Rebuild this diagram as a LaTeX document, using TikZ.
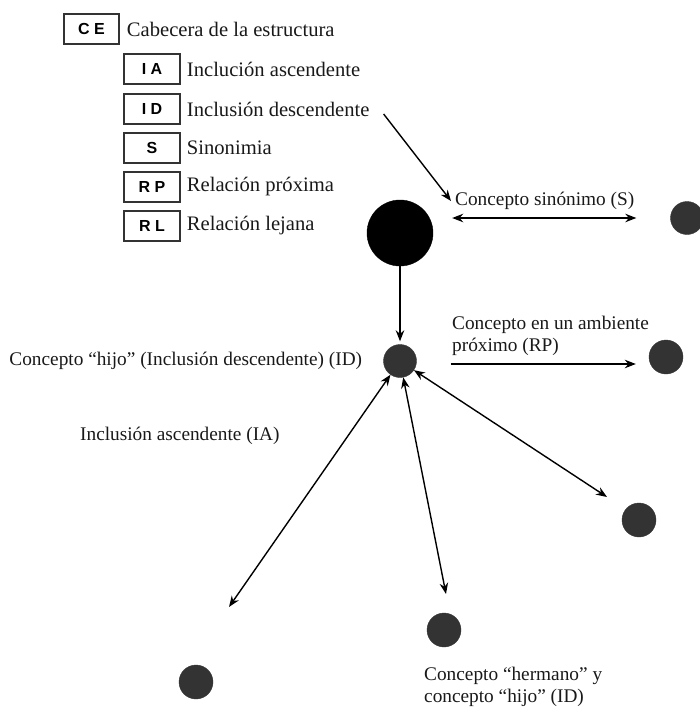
\documentclass[tikz,border=0pt]{standalone}
\usepackage{fontspec}
\setmainfont{Liberation Serif}
\newfontfamily\clavefont{Liberation Sans}
\usetikzlibrary{arrows.meta}
\usetikzlibrary{positioning}

\begin{document}
\begin{tikzpicture}[x=1pt, y=-1pt,
    texto/.style={font=\fontsize{19.3}{22}\selectfont, inner sep=0pt, text=black!90},
    leyenda/.style={texto, font=\fontsize{20.6}{23}\selectfont},
    clave/.style={draw=black!80, line width=1.5pt, minimum width=56pt, minimum height=30pt,
                  inner sep=0pt, font=\clavefont\bfseries\fontsize{16}{16}\selectfont},
    concepto/.style={circle, fill=black!80, draw=black!80, inner sep=0pt, minimum size=34pt},
    flecha/.style={-{Stealth[length=11pt,width=8.5pt]}, line width=1.4pt},
    flechas/.style={{Stealth[length=11pt,width=8.5pt]}-{Stealth[length=11pt,width=8.5pt]}, line width=1.4pt}]
    \useasboundingbox (0,0) rectangle (700,709);

    % Leyenda
    \node[clave, minimum width=55pt] (ce) at (91.5,29) {C E};
    \node[clave] (ia) at (152,69)  {I A};
    \node[clave] (id) at (152,109) {I D};
    \node[clave] (s)  at (152,148) {S};
    \node[clave] (rp) at (152,187) {R P};
    \node[clave] (rl) at (152,226) {R L};
    \node[leyenda, right=7pt of ce, anchor=west] (cetxt) {Cabecera de la estructura};
    \node[leyenda, right=6pt of ia, anchor=west] (iatxt) {Inclución ascendente};
    \node[leyenda, right=6pt of id, anchor=west] (idtxt) {Inclusión descendente};
    \node[leyenda, right=6pt of s,  anchor=west] (stxt)  {Sinonimia};
    \node[leyenda, right=6pt of rp, anchor=west] (rptxt) {Relación próxima};
    \node[leyenda, right=6pt of rl, anchor=west] (rltxt) {Relación lejana};

    % Conceptos
    \node[concepto, fill=black, draw=black, minimum size=66pt] (grande) at (400,233) {};
    \node[concepto, minimum size=33pt] (sinon) at (687,218) {};
    \node[concepto, minimum size=33pt] (hijo)  at (400,361) {};
    \node[concepto] (prox)  at (666,357) {};
    \node[concepto] (ascl)  at (196,682) {};
    \node[concepto] (herm)  at (444,630) {};
    \node[concepto] (der)   at (639,520) {};
    \coordinate (ascfin)  at (229,607);
    \coordinate (hermfin) at (446,594);
    \coordinate (derfin)  at (607,497);

    % Textos
    \node[texto, anchor=north west] (sintxt) at (455,192) {Concepto sinónimo (S)};
    \node[texto, left=21pt of hijo, anchor=east] (hijotxt) {Concepto “hijo” (Inclusión descendente) (ID)};
    \node[texto, anchor=north west, align=left] (proxtxt) at (452,316) {Concepto en un ambiente\\próximo (RP)};
    \node[texto, anchor=west] (asctxt) at (80,436) {Inclusión ascendente (IA)};
    \node[texto, anchor=north west, align=left] (hermtxt) at (424,667) {Concepto “hermano” y\\concepto “hijo” (ID)};

    % Flechas
    \draw[flecha] ([xshift=14pt,yshift=-5pt]idtxt.east) -- ([xshift=-4pt]sintxt.west);
    \draw[flechas] ([xshift=19pt,yshift=15pt]grande.east) -- ([xshift=-34pt]sinon.west);
    \draw[flecha, shorten >=3pt] (grande) -- (hijo);
    \draw[flecha] ([xshift=34pt,yshift=-3pt]hijo.east) -- ([xshift=-13pt,yshift=-7pt]prox.west);
    \draw[flechas] (hijo) -- (ascfin);
    \draw[flechas] (hijo) -- (hermfin);
    \draw[flechas] (hijo) -- (derfin);
\end{tikzpicture}
\end{document}
